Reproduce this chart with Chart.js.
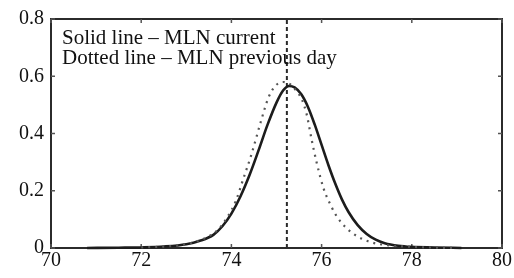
<!DOCTYPE html>
<html>
<head>
<meta charset="utf-8">
<script src="https://cdn.jsdelivr.net/npm/chart.js@4/dist/chart.umd.min.js"></script>
<style>
html,body{margin:0;padding:0;background:#fff;}
#wrap{width:514px;height:278px;}
</style>
</head>
<body>
<div id="wrap"><canvas id="c" width="514" height="278"></canvas></div>
<script>
// MLN current (solid line)
const currentX = [70.8, 71.5, 72.0, 72.5, 73.0, 73.3, 73.6, 73.8, 74.0, 74.2, 74.4, 74.6, 74.8, 75.0, 75.15, 75.28, 75.4, 75.55, 75.7, 75.85, 76.0, 76.15, 76.3, 76.45, 76.6, 76.8, 77.0, 77.2, 77.4, 77.7, 78.0, 78.5, 79.1];
const currentY = [0.0, 0.001, 0.002, 0.005, 0.013, 0.025, 0.046, 0.076, 0.12, 0.18, 0.254, 0.34, 0.43, 0.508, 0.551, 0.566, 0.561, 0.537, 0.492, 0.43, 0.36, 0.29, 0.226, 0.17, 0.125, 0.08, 0.049, 0.029, 0.017, 0.008, 0.004, 0.002, 0.0];
// MLN previous day (dotted line)
const previousX = [72.0, 72.6, 73.0, 73.4, 73.7, 73.9, 74.1, 74.25, 74.45, 74.65, 74.82, 74.95, 75.05, 75.15, 75.3, 75.45, 75.56, 75.67, 75.78, 75.9, 76.04, 76.2, 76.35, 76.55, 76.8, 77.1, 77.5, 78.0, 78.6, 79.0];
const previousY = [0.002, 0.006, 0.014, 0.033, 0.064, 0.105, 0.165, 0.235, 0.33, 0.44, 0.525, 0.562, 0.576, 0.58, 0.572, 0.547, 0.52, 0.466, 0.378, 0.292, 0.21, 0.15, 0.107, 0.07, 0.04, 0.02, 0.009, 0.004, 0.001, 0.0];
// Reference vertical dashed line
const markerX = 75.23;
const markerY = [0, 0.8];
// Axis ticks
const xTickLabels = ['70', '72', '74', '76', '78', '80'];
const yTickLabels = ['0', '0.2', '0.4', '0.6', '0.8'];
const legendLines = ['Solid line \u2013 MLN current', 'Dotted line \u2013 MLN previous day'];

const toPts = (xs, ys) => xs.map((x, i) => ({x: x, y: ys[i]}));

const framePlugin = {
  id: 'frame',
  beforeDatasetsDraw(chart) {
    const {ctx, chartArea: a, scales} = chart;
    ctx.save();
    ctx.strokeStyle = '#2b2b2b';
    ctx.lineWidth = 2;
    ctx.strokeRect(a.left, a.top, a.right - a.left, a.bottom - a.top);
    ctx.lineWidth = 1.5;
    ctx.strokeStyle = '#555';
    const L = 4;
    scales.x.ticks.forEach(t => {
      const px = scales.x.getPixelForValue(t.value);
      ctx.beginPath();
      ctx.moveTo(px, a.bottom); ctx.lineTo(px, a.bottom - L);
      ctx.moveTo(px, a.top); ctx.lineTo(px, a.top + L);
      ctx.stroke();
    });
    scales.y.ticks.forEach(t => {
      const py = scales.y.getPixelForValue(t.value);
      ctx.beginPath();
      ctx.moveTo(a.left, py); ctx.lineTo(a.left + L, py);
      ctx.moveTo(a.right, py); ctx.lineTo(a.right - L, py);
      ctx.stroke();
    });
    ctx.restore();
  },
  afterDraw(chart) {
    const {ctx, chartArea: a} = chart;
    ctx.save();
    ctx.fillStyle = '#111';
    ctx.font = '21px "Liberation Serif", "Times New Roman", serif';
    ctx.textBaseline = 'alphabetic';
    ctx.fillText(legendLines[0], a.left + 11, a.top + 25);
    ctx.fillText(legendLines[1], a.left + 11, a.top + 45);
    ctx.restore();
  }
};

new Chart(document.getElementById('c'), {
  type: 'scatter',
  data: {
    datasets: [
      {
        data: toPts(previousX, previousY),
        showLine: true,
        borderColor: '#555',
        borderWidth: 2.2,
        borderDash: [2, 5],
        pointRadius: 0,
        cubicInterpolationMode: 'monotone',
        clip: 4
      },
      {
        data: toPts(currentX, currentY),
        showLine: true,
        borderColor: '#1c1c1c',
        borderWidth: 2.6,
        pointRadius: 0,
        cubicInterpolationMode: 'monotone',
        clip: 4
      },
      {
        data: markerY.map(y => ({x: markerX, y: y})),
        showLine: true,
        borderColor: '#2a2a2a',
        borderWidth: 2,
        borderDash: [4, 3],
        pointRadius: 0,
        clip: 4
      }
    ]
  },
  options: {
    responsive: false,
    animation: false,
    devicePixelRatio: 1,
    layout: {padding: {left: 0, right: 12, top: 16, bottom: 0}},
    plugins: {legend: {display: false}, tooltip: {enabled: false}},
    scales: {
      x: {
        type: 'linear', min: 70, max: 80,
        ticks: {
          stepSize: 2, padding: 1, color: '#111',
          font: {family: '"Liberation Serif", "Times New Roman", serif', size: 20},
          callback: (v) => xTickLabels[Math.round((v - 70) / 2)]
        },
        grid: {display: false, drawTicks: false},
        border: {display: false},
        afterFit: (s) => { s.height = 30; }
      },
      y: {
        type: 'linear', min: 0, max: 0.8,
        ticks: {
          stepSize: 0.2, padding: 7, color: '#111',
          font: {family: '"Liberation Serif", "Times New Roman", serif', size: 20},
          callback: (v) => yTickLabels[Math.round(v / 0.2)]
        },
        grid: {display: false, drawTicks: false},
        border: {display: false},
        afterFit: (s) => { s.width = 51; }
      }
    }
  },
  plugins: [framePlugin]
});
</script>
</body>
</html>
